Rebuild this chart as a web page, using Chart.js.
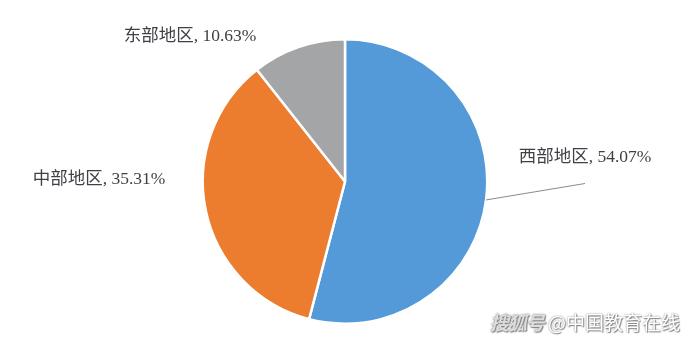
<!DOCTYPE html>
<html>
<head>
<meta charset="utf-8">
<script src="https://cdn.jsdelivr.net/npm/chart.js@4/dist/chart.umd.min.js"></script>
<style>
  html, body { margin: 0; padding: 0; background: #fff; }
  #wrap { position: relative; width: 690px; height: 341px; }
  #mark {
    position: absolute; right: 10px; bottom: 6px;
    font: 19px "Noto Sans CJK SC", sans-serif; color: #fff;
    text-shadow: 0 0 2px #777, 1px 1px 1px #888;
  }
  #mark i { color: #ddd; font-weight: bold; letter-spacing: -1px; }
</style>
</head>
<body>
<div id="wrap">
  <canvas id="pie" width="690" height="341"></canvas>
  <div id="mark"><i>搜狐号</i> @中国教育在线</div>
</div>
<script>
// ── Data ──────────────────────────────────────────────────
const regions = ["西部地区", "中部地区", "东部地区"];
const shares  = [54.07, 35.31, 10.63];
const colors  = ["#559ad8", "#ec7d2f", "#a4a5a7"];

// label anchor offsets from pie centre (px), leader flag
const labelOffsets = [[240, -24], [-246, -2], [-155, -145]];
const leaders      = [true, false, false];

// ── Label plugin ──────────────────────────────────────────
const labelPlugin = {
  id: "pieLabels",
  afterDatasetsDraw(chart) {
    const ctx  = chart.ctx;
    const arcs = chart.getDatasetMeta(0).data;
    ctx.save();
    ctx.font = '17.5px "Liberation Serif", "Noto Sans CJK SC", serif';
    ctx.fillStyle = "#3f3f46";
    ctx.textAlign = "center";
    ctx.textBaseline = "middle";
    arcs.forEach((arc, i) => {
      const cx = arc.x, cy = arc.y;
      const [ox, oy] = labelOffsets[i];
      const lx = cx + ox, ly = cy + oy;
      ctx.fillText(regions[i] + ", " + shares[i].toFixed(2) + "%", lx, ly);
      if (leaders[i]) {
        const a = 0.13;
        ctx.strokeStyle = "#8a8a8a";
        ctx.lineWidth = 1;
        ctx.beginPath();
        ctx.moveTo(cx + Math.cos(a) * arc.outerRadius, cy + Math.sin(a) * arc.outerRadius);
        ctx.lineTo(lx, ly + 26);
        ctx.stroke();
      }
    });
    ctx.restore();
  }
};

new Chart(document.getElementById("pie").getContext("2d"), {
  type: "pie",
  data: {
    labels: regions,
    datasets: [{
      data: shares,
      backgroundColor: colors,
      borderColor: "#ffffff",
      borderWidth: 2.5,
    }]
  },
  options: {
    responsive: false,
    animation: false,
    layout: { padding: { top: 38, bottom: 16, left: 60, right: 60 } },
    plugins: { legend: { display: false }, tooltip: { enabled: false } }
  },
  plugins: [labelPlugin]
});
</script>
</body>
</html>
